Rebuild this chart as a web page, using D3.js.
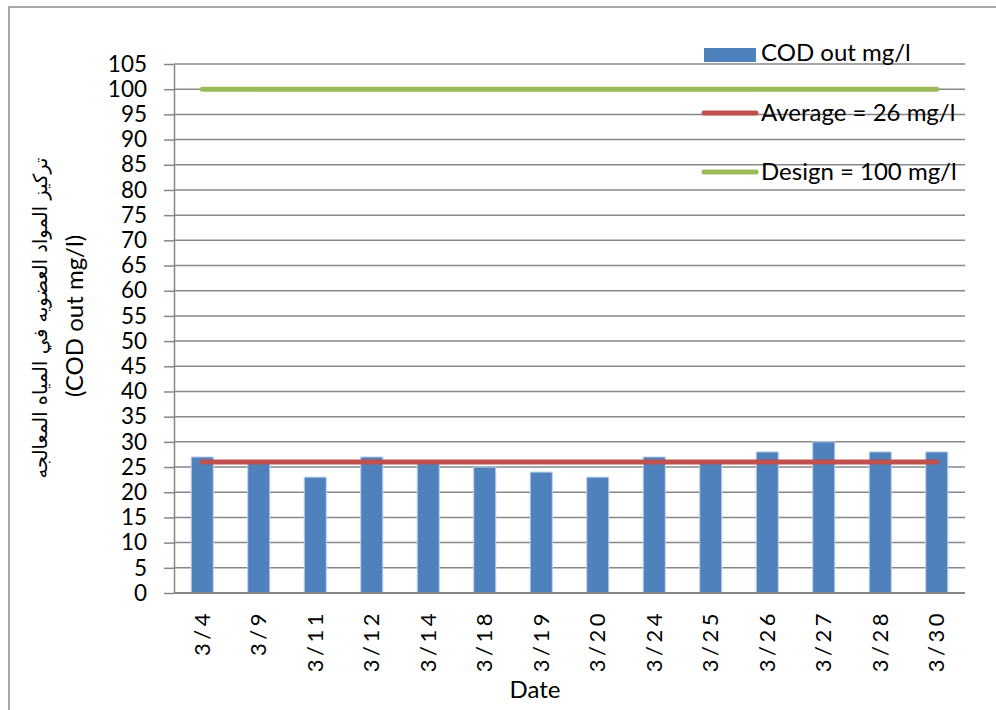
<!DOCTYPE html>
<html>
<head>
<meta charset="utf-8">
<script src="https://cdn.jsdelivr.net/npm/d3@7"></script>
<style>
  html, body { margin: 0; padding: 0; background: #fff; }
  svg { display: block; }
  text { font-family: Lato, "Open Sans", sans-serif; fill: #000; }
</style>
</head>
<body>
<svg id="chart" width="996" height="710"></svg>
<script>
// Daily effluent COD readings (mg/l)
const dates = ["3/4", "3/9", "3/11", "3/12", "3/14", "3/18", "3/19", "3/20", "3/24", "3/25", "3/26", "3/27", "3/28", "3/30"];
const codOut = [27, 26, 23, 27, 26, 25, 24, 23, 27, 26, 28, 30, 28, 28];
const averageValue = 26;
const designValue = 100;
const yTicks = [0, 5, 10, 15, 20, 25, 30, 35, 40, 45, 50, 55, 60, 65, 70, 75, 80, 85, 90, 95, 100, 105];
const legendLabels = ["COD out mg/l", "Average = 26 mg/l", "Design = 100 mg/l"];

const svg = d3.select("#chart");
const plot = { left: 174, right: 965, top: 64, bottom: 593 };

// Outer chart frame
svg.append("rect")
  .attr("x", 9).attr("y", 7).attr("width", 1000).attr("height", 720)
  .attr("fill", "none").attr("stroke", "#8c8c8c").attr("stroke-width", 1.5);

const x = d3.scaleBand().domain(dates).range([plot.left, plot.right])
  .paddingInner(0.61).paddingOuter(0.305);
const y = d3.scaleLinear().domain([0, 105]).range([plot.bottom, plot.top]);

// Horizontal gridlines
svg.append("g").selectAll("line").data(yTicks.filter(d => d > 0)).join("line")
  .attr("x1", plot.left).attr("x2", plot.right)
  .attr("y1", d => y(d)).attr("y2", d => y(d))
  .attr("stroke", "#878787").attr("stroke-width", 1.5);

// Y axis with outward ticks
const yAxis = svg.append("g").attr("transform", `translate(${plot.left},0)`)
  .call(d3.axisLeft(y).tickValues(yTicks).tickSize(10).tickPadding(17).tickSizeOuter(0));
yAxis.select(".domain").attr("stroke", "#878787").attr("stroke-width", 1.5);
yAxis.selectAll(".tick line").attr("stroke", "#878787").attr("stroke-width", 1.5);
yAxis.selectAll(".tick text")
  .style("font-family", "Lato, sans-serif").style("font-size", "22.5px").attr("fill", "#000");

// Bars
svg.append("g").selectAll("rect").data(codOut).join("rect")
  .attr("x", (d, i) => x(dates[i]))
  .attr("width", x.bandwidth())
  .attr("y", d => y(d))
  .attr("height", d => y(0) - y(d))
  .attr("fill", "#4f81bd")
  .attr("stroke", "#bcd0e8").attr("stroke-width", 1);

// X axis baseline
svg.append("line")
  .attr("x1", plot.left).attr("x2", plot.right)
  .attr("y1", plot.bottom).attr("y2", plot.bottom)
  .attr("stroke", "#878787").attr("stroke-width", 2);

// Category labels, rotated
const xAxis = svg.append("g").attr("transform", `translate(0,${plot.bottom})`)
  .call(d3.axisBottom(x).tickSize(0).tickPadding(0));
xAxis.select(".domain").remove();
xAxis.selectAll(".tick text")
  .attr("transform", "rotate(-90)")
  .attr("x", -17).attr("y", 0).attr("dy", "0.35em")
  .attr("text-anchor", "end")
  .style("font-family", "Lato, sans-serif").style("font-size", "22px")
  .style("letter-spacing", "3.5px").attr("fill", "#000");

// Reference lines across the categories
const firstC = x(dates[0]) + x.bandwidth() / 2;
const lastC = x(dates[dates.length - 1]) + x.bandwidth() / 2;
svg.append("line")
  .attr("x1", firstC).attr("x2", lastC)
  .attr("y1", y(averageValue)).attr("y2", y(averageValue))
  .attr("stroke", "#c0504d").attr("stroke-width", 5).attr("stroke-linecap", "round");
svg.append("line")
  .attr("x1", firstC).attr("x2", lastC)
  .attr("y1", y(designValue)).attr("y2", y(designValue))
  .attr("stroke", "#9bbb59").attr("stroke-width", 5).attr("stroke-linecap", "round");

// Legend
const legend = svg.append("g");
legend.append("rect").attr("x", 704).attr("y", 48).attr("width", 52).attr("height", 14).attr("fill", "#4f81bd");
legend.append("line").attr("x1", 704).attr("x2", 756).attr("y1", 113).attr("y2", 113)
  .attr("stroke", "#c0504d").attr("stroke-width", 5).attr("stroke-linecap", "round");
legend.append("line").attr("x1", 704).attr("x2", 756).attr("y1", 172).attr("y2", 172)
  .attr("stroke", "#9bbb59").attr("stroke-width", 5).attr("stroke-linecap", "round");
legend.selectAll("text.lg").data(legendLabels).join("text")
  .attr("class", "lg")
  .attr("x", 761)
  .attr("y", (d, i) => [53, 113, 172][i])
  .attr("dy", "0.35em")
  .style("font-size", "24px")
  .text(d => d);

// Axis titles
svg.append("text")
  .attr("transform", "translate(40,318) rotate(-90)")
  .attr("text-anchor", "middle").attr("dy", "0.35em")
  .style("font-family", "'DejaVu Sans', sans-serif").style("font-size", "19.5px")
  .text("تركيز المواد العضويه في المياه المعالجه");
svg.append("text")
  .attr("transform", "translate(75,316) rotate(-90)")
  .attr("text-anchor", "middle").attr("dy", "0.35em")
  .style("font-size", "24px")
  .text("(COD out mg/l)");
svg.append("text")
  .attr("x", 535).attr("y", 690).attr("dy", "0.35em")
  .attr("text-anchor", "middle")
  .style("font-size", "24px")
  .text("Date");
</script>
</body>
</html>
